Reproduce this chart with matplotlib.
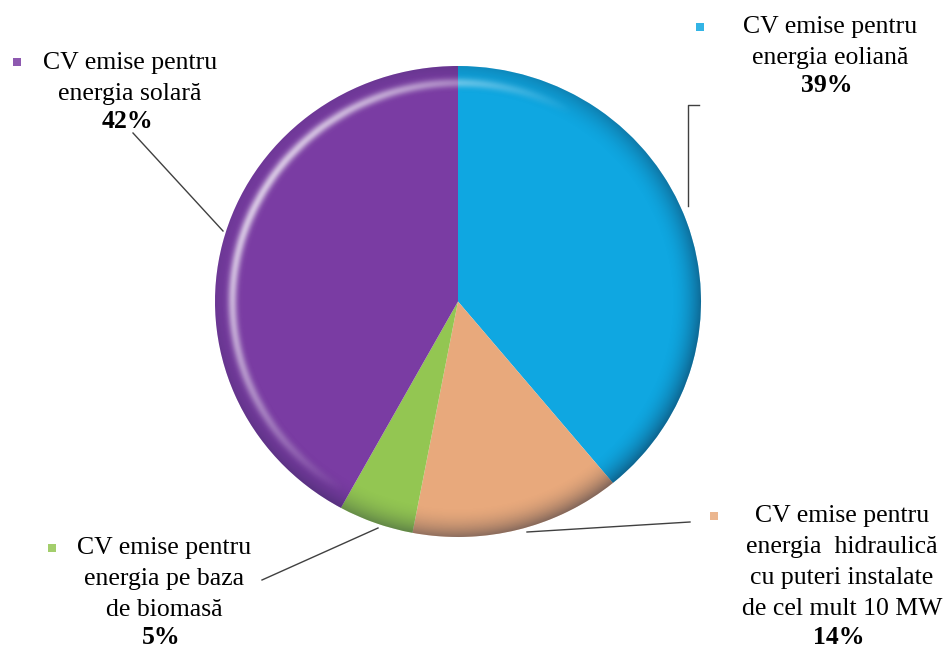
import numpy as np
import matplotlib
matplotlib.use("Agg")
import matplotlib.pyplot as plt
from matplotlib.patches import Circle

# date (procente CV emise), in ordinea feliilor, in sensul acelor de ceasornic
labels = [
    "CV emise pentru\nenergia eoliană",
    "CV emise pentru\nenergia  hidraulică\ncu puteri instalate\nde cel mult 10 MW",
    "CV emise pentru\nenergia pe baza\nde biomasă",
    "CV emise pentru\nenergia solară",
]
values = [39, 14, 5, 42]
colors = ["#0fa7e1", "#e8a97c", "#93c652", "#7a3ca3"]

W, H = 946, 650
fig = plt.figure(figsize=(W / 100, H / 100), dpi=100)

# axa pentru placinta (pozitionata in pixeli)
px0, py0, pw, ph = 215, 66, 486, 471
axp = fig.add_axes([px0 / W, 1 - (py0 + ph) / H, pw / W, ph / H])
axp.pie(values, colors=colors, startangle=90, counterclock=False, radius=1,
        wedgeprops=dict(linewidth=0))
axp.set_aspect("auto")
axp.set_xlim(-1, 1)
axp.set_ylim(-1, 1)
axp.axis("off")

# efect 3D: margine intunecata + reflexie deschisa in stanga sus
n = 500
xx, yy = np.meshgrid(np.linspace(-1, 1, n), np.linspace(1, -1, n))
rr = np.hypot(xx, yy) + 1e-9
d = np.clip((rr - 0.87) / 0.13, 0, 1) ** 2
w = 0.5 + 0.5 * (xx * 0.8 - yy * 0.6) / rr
dark = np.zeros((n, n, 4))
dark[..., 0] = 0.05
dark[..., 1] = 0.1
dark[..., 2] = 0.2
dark[..., 3] = d * (0.1 + 0.38 * w)
wl = np.clip((-xx * 0.85 + yy * 0.5) / rr, 0, 1)
light = np.ones((n, n, 4))
light[..., 3] = np.exp(-((rr - 0.93) / 0.02) ** 2) * wl * 0.7
clip = Circle((0, 0), 1, transform=axp.transData)
for img in (dark, light):
    im = axp.imshow(img, extent=(-1, 1, -1, 1), aspect="auto", zorder=3)
    im.set_clip_path(clip)

# axa suprapusa pentru etichete, in coordonate pixel
ax = fig.add_axes([0, 0, 1, 1])
ax.set_xlim(0, W)
ax.set_ylim(H, 0)
ax.axis("off")

font = "Liberation Serif"
fs = 18.5
step = 31
# (x centru text, y prima linie, x marker, y marker)
pos = [
    (830, 27, 700, 27),
    (842, 516, 714, 516),
    (164, 548, 52, 548),
    (130, 63, 17, 62),
]
for lab, v, c, (tx, ty, mx, my) in zip(labels, values, colors, pos):
    lines = lab.split("\n")
    for i, ln in enumerate(lines):
        ax.text(tx, ty + i * step, ln, ha="center", va="center",
                fontsize=fs, family=font, color="black")
    ax.text(tx - 3, ty + len(lines) * step - 3, f"{v}%", ha="center", va="center",
            fontsize=fs, family=font, fontweight="bold", color="black")
    ax.scatter([mx], [my], marker="s", s=40, color=c, alpha=0.85, linewidths=0)

# linii de legatura
lc = dict(color="#404040", lw=1)
ax.plot([699, 688, 688], [105, 105, 206], **lc)
ax.plot([527, 690], [532, 522], **lc)
ax.plot([378, 262], [528, 580], **lc)
ax.plot([133, 223], [133, 231], **lc)

fig.savefig("out.png", dpi=100)
